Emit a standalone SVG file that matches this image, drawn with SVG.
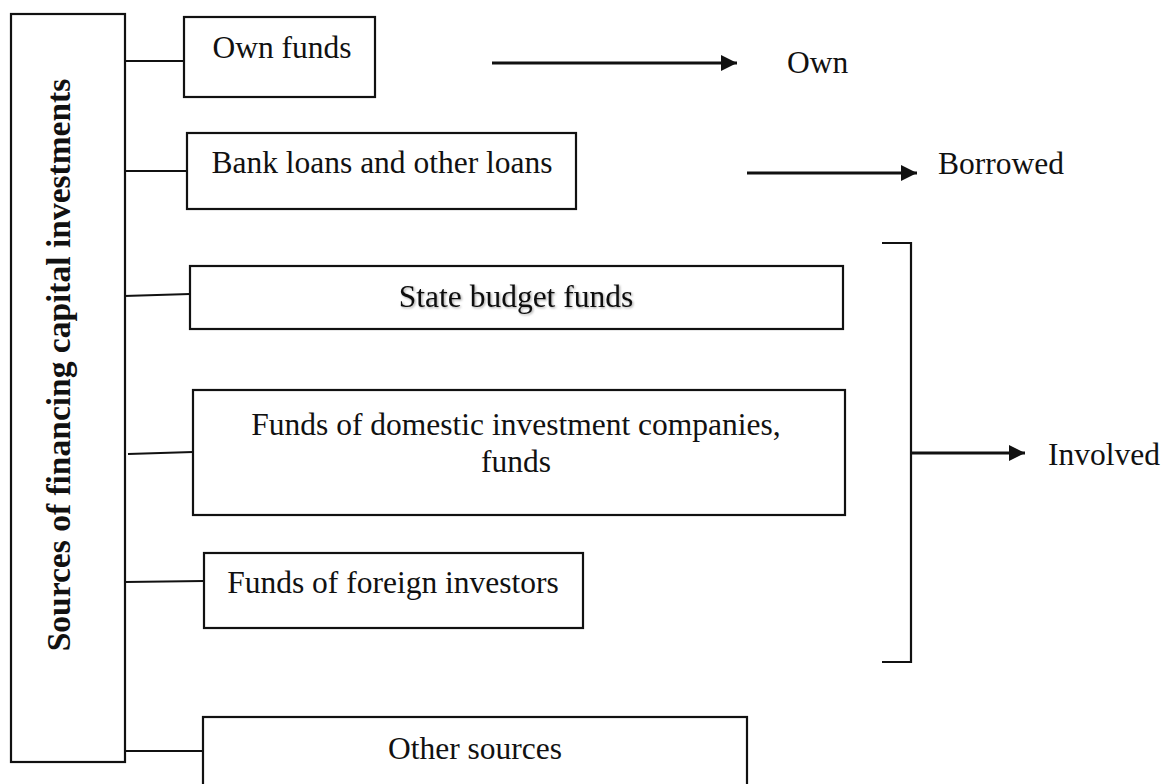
<svg xmlns="http://www.w3.org/2000/svg" width="1165" height="784" viewBox="0 0 1165 784">
  <style>
    .box { fill: #ffffff; stroke: #111111; stroke-width: 2.2; }
    .link { fill: none; stroke: #111111; stroke-width: 2.2; }
    .arrow { fill: none; stroke: #111111; stroke-width: 2.8; marker-end: url(#head); }
    .lbl { font-family: "Liberation Serif", "Times New Roman", serif; font-size: 31.5px; fill: #111111; }
    .mid { text-anchor: middle; }
    .title { font-weight: bold; font-size: 33.5px; }
  </style>
  <defs>
    <marker id="head" markerUnits="userSpaceOnUse" markerWidth="17" markerHeight="17" refX="16" refY="8" orient="auto">
      <path d="M0,0 L16,8 L0,16 Z" fill="#111111"/>
    </marker>
    <filter id="soft-shadow" x="-5%" y="-20%" width="110%" height="150%">
      <feDropShadow dx="1.2" dy="1.2" stdDeviation="0.9" flood-color="#000000" flood-opacity="0.35"/>
    </filter>
  </defs>

  <rect width="1165" height="784" fill="#ffffff"/>

  <!-- connectors: branches from the main column, result arrows and the bracket -->
  <g id="connectors">
    <line class="link" x1="124" y1="61" x2="186" y2="61"/>
    <line class="link" x1="123" y1="171" x2="187" y2="171"/>
    <line class="link" x1="124" y1="296" x2="190" y2="294"/>
    <line class="link" x1="128" y1="454" x2="193" y2="452"/>
    <line class="link" x1="125" y1="582" x2="204" y2="581"/>
    <line class="link" x1="122" y1="751" x2="203" y2="751"/>

    <line class="arrow" x1="492" y1="63" x2="737" y2="63"/>
    <line class="arrow" x1="747" y1="173" x2="917" y2="173"/>

    <polyline class="link" points="882,243 911,243 911,662 882,662"/>
    <line class="arrow" x1="911" y1="453" x2="1025" y2="453"/>
  </g>

  <g id="sources">
    <rect class="box" x="11" y="14" width="114" height="748"/>
    <text class="lbl title mid" transform="translate(70 365) rotate(-90)">Sources of financing capital investments</text>
  </g>

  <g id="own-funds">
    <rect class="box" x="184" y="17" width="191" height="80"/>
    <text class="lbl mid" x="282" y="58">Own funds</text>
  </g>

  <g id="bank-loans">
    <rect class="box" x="187" y="133" width="389" height="76"/>
    <text class="lbl mid" x="382" y="173">Bank loans and other loans</text>
  </g>

  <g id="state-budget">
    <rect class="box" x="190" y="266" width="653" height="63"/>
    <text class="lbl mid" x="516" y="307" filter="url(#soft-shadow)">State budget funds</text>
  </g>

  <g id="domestic-funds">
    <rect class="box" x="193" y="390" width="652" height="125"/>
    <text class="lbl mid" x="516" y="435">Funds of domestic investment companies,</text>
    <text class="lbl mid" x="516" y="472">funds</text>
  </g>

  <g id="foreign-investors">
    <rect class="box" x="204" y="553" width="379" height="75"/>
    <text class="lbl mid" x="393" y="593">Funds of foreign investors</text>
  </g>

  <g id="other-sources">
    <rect class="box" x="203" y="717" width="544" height="80"/>
    <text class="lbl mid" x="475" y="759">Other sources</text>
  </g>

  <g id="own">
    <text class="lbl" x="787" y="73">Own</text>
  </g>

  <g id="borrowed">
    <text class="lbl" x="938" y="174">Borrowed</text>
  </g>

  <g id="involved">
    <text class="lbl" x="1048" y="465">Involved</text>
  </g>
</svg>
